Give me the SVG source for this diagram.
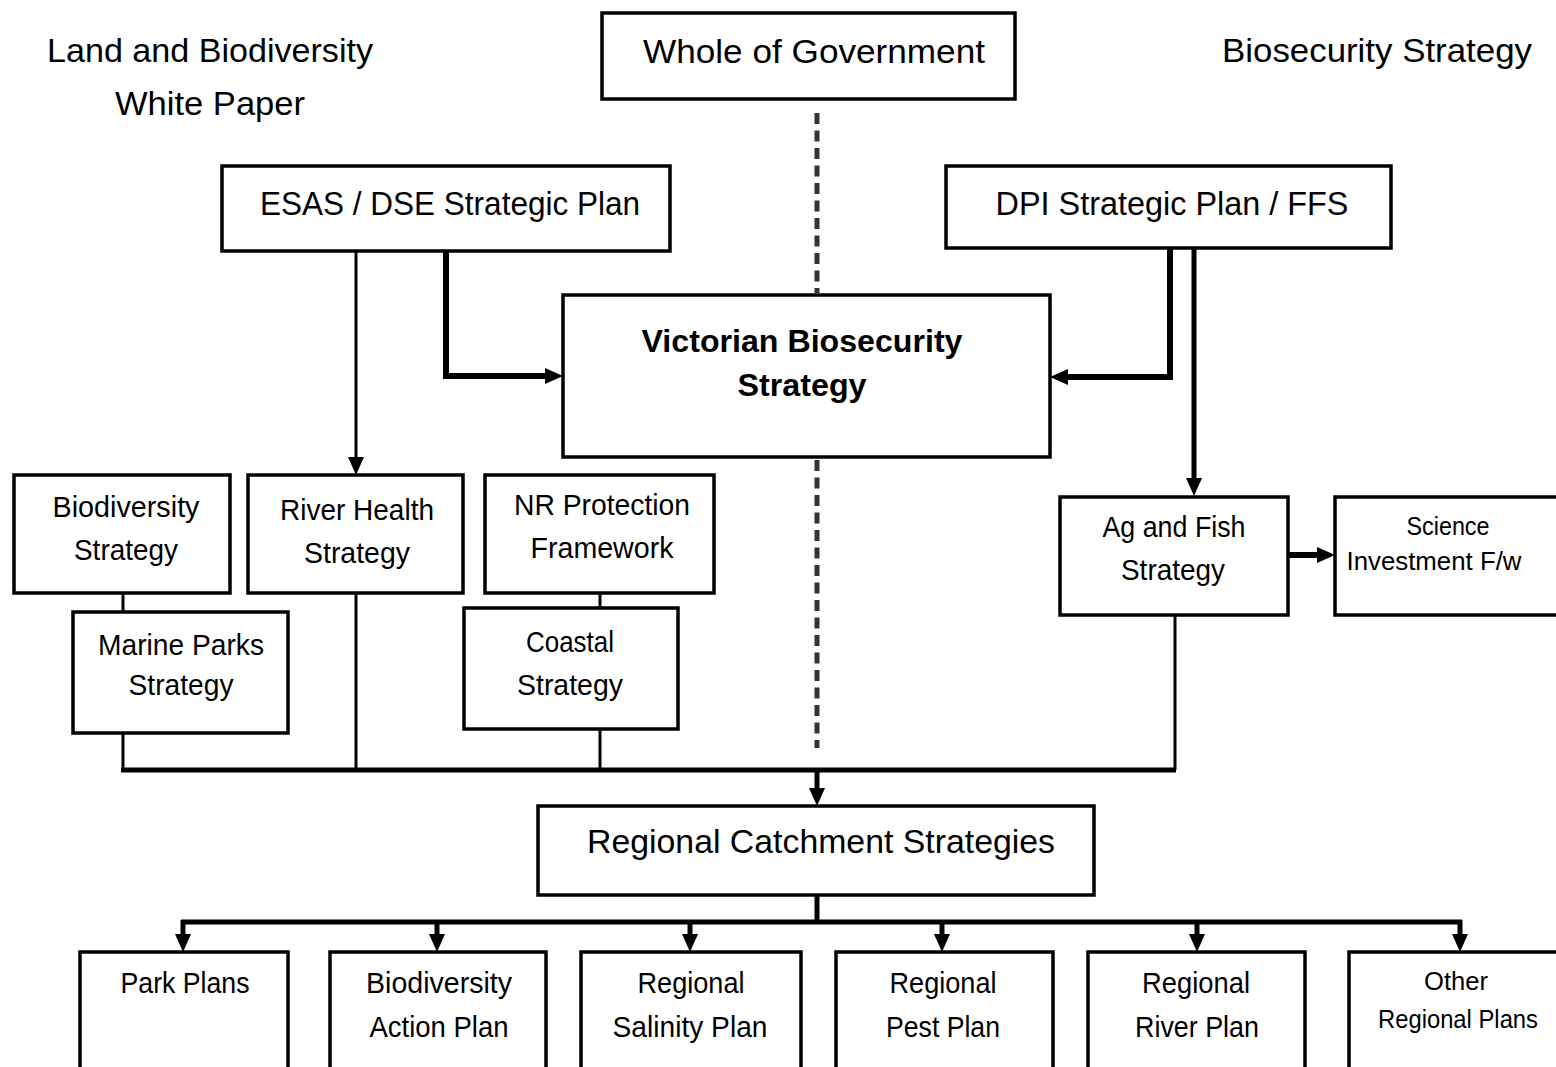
<svg xmlns="http://www.w3.org/2000/svg" width="1556" height="1067" viewBox="0 0 1556 1067">
<defs>
<style>
.box{fill:#fff;stroke:#000;stroke-width:3.5}
.t{font-family:"Liberation Sans",Arial,sans-serif;fill:#000;text-anchor:middle}
.h{font-size:34px}
.m{font-size:30px}
.s{font-size:25px}
.b{font-size:31px;font-weight:bold}
.c{fill:none;stroke:#000;stroke-linejoin:miter}
.k{stroke-width:6}
.n{stroke-width:3}
.md{stroke-width:5}
.dash{fill:none;stroke:#333;stroke-width:5;stroke-dasharray:11 6.5}
</style>
<marker id="ah" viewBox="0 0 18 16" refX="8" refY="8" markerWidth="18" markerHeight="16" markerUnits="userSpaceOnUse" orient="auto">
<path d="M0,0 L18,8 L0,16 z" fill="#000"/>
</marker>
</defs>
<rect width="1556" height="1067" fill="#fff"/>

<g id="labels">
<text class="t h" x="210" y="62" textLength="326" lengthAdjust="spacingAndGlyphs">Land and Biodiversity</text>
<text class="t h" x="210" y="115" textLength="190" lengthAdjust="spacingAndGlyphs">White Paper</text>
<text class="t h" x="1377" y="62" textLength="310" lengthAdjust="spacingAndGlyphs">Biosecurity Strategy</text>
</g>

<g id="connectors">
<path class="dash" d="M817,113 V293"/>
<path class="dash" d="M817,460 V748"/>
<path class="c n" d="M356,251 V465" marker-end="url(#ah)"/>
<path class="c k" d="M446,251 V376 H553" marker-end="url(#ah)"/>
<path class="c k" d="M1170,248 V377 H1060" marker-end="url(#ah)"/>
<path class="c md" d="M1194,248 V486" marker-end="url(#ah)"/>
<path class="c k" d="M1287,555 H1325" marker-end="url(#ah)"/>
<path class="c n" d="M123,593 V612"/>
<path class="c n" d="M600,593 V608"/>
<path class="c n" d="M123,733 V770"/>
<path class="c n" d="M356,593 V770"/>
<path class="c n" d="M600,729 V770"/>
<path class="c n" d="M1175,614 V770"/>
<path class="c md" d="M121,770 H1176"/>
<path class="c md" d="M817,770 V796" marker-end="url(#ah)"/>
<path class="c md" d="M817,895 V922"/>
<path class="c md" d="M181,922 H1462"/>
<path class="c md" d="M183,920 V942" marker-end="url(#ah)"/>
<path class="c md" d="M437,920 V942" marker-end="url(#ah)"/>
<path class="c md" d="M690,920 V942" marker-end="url(#ah)"/>
<path class="c md" d="M942,920 V942" marker-end="url(#ah)"/>
<path class="c md" d="M1197,920 V942" marker-end="url(#ah)"/>
<path class="c md" d="M1460,920 V942" marker-end="url(#ah)"/>
</g>

<g id="whole-of-government">
<rect class="box" x="602" y="13" width="413" height="86"/>
<text class="t h" x="814" y="63" textLength="342" lengthAdjust="spacingAndGlyphs">Whole of Government</text>
</g>
<g id="esas-dse">
<rect class="box" x="222" y="166" width="448" height="85"/>
<text class="t h" x="450" y="215" textLength="380" lengthAdjust="spacingAndGlyphs">ESAS / DSE Strategic Plan</text>
</g>
<g id="dpi">
<rect class="box" x="946" y="166" width="445" height="82"/>
<text class="t h" x="1172" y="215" textLength="353" lengthAdjust="spacingAndGlyphs">DPI Strategic Plan / FFS</text>
</g>
<g id="victorian-biosecurity">
<rect class="box" x="563" y="295" width="487" height="162"/>
<text class="t b" x="802" y="352" textLength="321" lengthAdjust="spacingAndGlyphs">Victorian Biosecurity</text>
<text class="t b" x="802" y="396" textLength="129" lengthAdjust="spacingAndGlyphs">Strategy</text>
</g>
<g id="biodiversity-strategy">
<rect class="box" x="14" y="475" width="216" height="118"/>
<text class="t m" x="126" y="517" textLength="147" lengthAdjust="spacingAndGlyphs">Biodiversity</text>
<text class="t m" x="126" y="560" textLength="104" lengthAdjust="spacingAndGlyphs">Strategy</text>
</g>
<g id="river-health">
<rect class="box" x="248" y="475" width="215" height="118"/>
<text class="t m" x="357" y="520" textLength="154" lengthAdjust="spacingAndGlyphs">River Health</text>
<text class="t m" x="357" y="563" textLength="106" lengthAdjust="spacingAndGlyphs">Strategy</text>
</g>
<g id="nr-protection">
<rect class="box" x="485" y="475" width="229" height="118"/>
<text class="t m" x="602" y="515" textLength="176" lengthAdjust="spacingAndGlyphs">NR Protection</text>
<text class="t m" x="602" y="558" textLength="143" lengthAdjust="spacingAndGlyphs">Framework</text>
</g>
<g id="marine-parks">
<rect class="box" x="73" y="612" width="215" height="121"/>
<text class="t m" x="181" y="655" textLength="166" lengthAdjust="spacingAndGlyphs">Marine Parks</text>
<text class="t m" x="181" y="695" textLength="105" lengthAdjust="spacingAndGlyphs">Strategy</text>
</g>
<g id="coastal">
<rect class="box" x="464" y="608" width="214" height="121"/>
<text class="t m" x="570" y="652" textLength="88" lengthAdjust="spacingAndGlyphs">Coastal</text>
<text class="t m" x="570" y="695" textLength="106" lengthAdjust="spacingAndGlyphs">Strategy</text>
</g>
<g id="ag-fish">
<rect class="box" x="1060" y="497" width="228" height="118"/>
<text class="t m" x="1174" y="537" textLength="143" lengthAdjust="spacingAndGlyphs">Ag and Fish</text>
<text class="t m" x="1173" y="580" textLength="104" lengthAdjust="spacingAndGlyphs">Strategy</text>
</g>
<g id="science">
<rect class="box" x="1335" y="497" width="240" height="118"/>
<text class="t s" x="1448" y="535" textLength="83" lengthAdjust="spacingAndGlyphs">Science</text>
<text class="t s" x="1434" y="570" textLength="175" lengthAdjust="spacingAndGlyphs">Investment F/w</text>
</g>
<g id="regional-catchment">
<rect class="box" x="538" y="806" width="556" height="89"/>
<text class="t h" x="821" y="853" textLength="468" lengthAdjust="spacingAndGlyphs">Regional Catchment Strategies</text>
</g>
<g id="park-plans">
<rect class="box" x="80" y="952" width="208" height="140"/>
<text class="t m" x="185" y="993" textLength="129" lengthAdjust="spacingAndGlyphs">Park Plans</text>
</g>
<g id="biodiversity-action">
<rect class="box" x="330" y="952" width="216" height="140"/>
<text class="t m" x="439" y="993" textLength="146" lengthAdjust="spacingAndGlyphs">Biodiversity</text>
<text class="t m" x="439" y="1037" textLength="139" lengthAdjust="spacingAndGlyphs">Action Plan</text>
</g>
<g id="salinity">
<rect class="box" x="581" y="952" width="220" height="140"/>
<text class="t m" x="691" y="993" textLength="107" lengthAdjust="spacingAndGlyphs">Regional</text>
<text class="t m" x="690" y="1037" textLength="155" lengthAdjust="spacingAndGlyphs">Salinity Plan</text>
</g>
<g id="pest">
<rect class="box" x="836" y="952" width="217" height="140"/>
<text class="t m" x="943" y="993" textLength="107" lengthAdjust="spacingAndGlyphs">Regional</text>
<text class="t m" x="943" y="1037" textLength="114" lengthAdjust="spacingAndGlyphs">Pest Plan</text>
</g>
<g id="river-plan">
<rect class="box" x="1088" y="952" width="217" height="140"/>
<text class="t m" x="1196" y="993" textLength="108" lengthAdjust="spacingAndGlyphs">Regional</text>
<text class="t m" x="1197" y="1037" textLength="124" lengthAdjust="spacingAndGlyphs">River Plan</text>
</g>
<g id="other-plans">
<rect class="box" x="1349" y="952" width="230" height="140"/>
<text class="t s" x="1456" y="990" textLength="64" lengthAdjust="spacingAndGlyphs">Other</text>
<text class="t s" x="1458" y="1028" textLength="160" lengthAdjust="spacingAndGlyphs">Regional Plans</text>
</g>
</svg>
